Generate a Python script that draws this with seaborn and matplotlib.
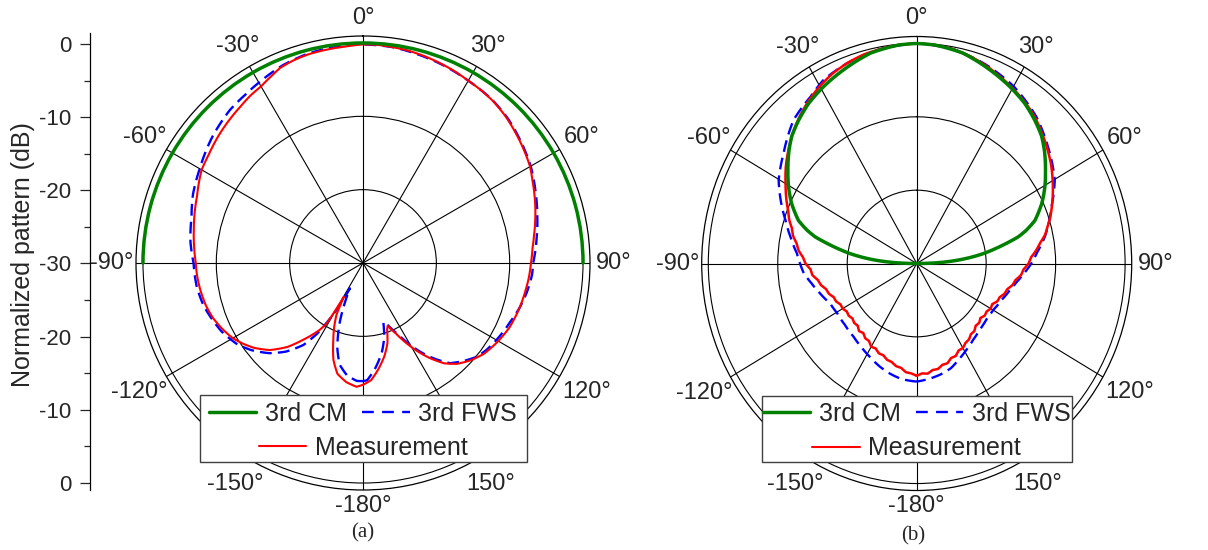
import numpy as np
import matplotlib
matplotlib.use("Agg")
import matplotlib.pyplot as plt
from matplotlib.lines import Line2D
from matplotlib.patches import Rectangle
import seaborn as sns

# ---- data (angles in degrees, clockwise from top; values in dB) ----
cm_a_theta = [-90, -60, -30, 0, 30, 60, 90]
cm_a_db = [0, 0, 0, 0, 0, 0, 0]

fws_a_theta = [-180, -177, -172, -167, -163, -158.5, -155.5, -152.8, -150, -147, -144, -139, -134,
               -128, -123, -116, -110, -105, -98, -90, -83, -75, -68, -60, -50, -41, -35, -30,
               -22, -15, -8, 0, 8, 15, 22, 30, 38, 45, 52, 60, 68, 75, 82, 90, 94, 100, 106,
               112, 120, 125, 129.5, 134, 139, 143, 147, 150, 154, 158, 161, 164, 168, 173.5,
               178, 180]
fws_a_db = [-13.9, -13.9, -14.5, -15.8, -18.0, -21.4, -24.0, -26.1, -22.0, -18.5, -16.2, -14.0,
            -12.3, -10.7, -9.6, -8.6, -8.0, -7.5, -7.1, -6.9, -6.3, -5.8, -5.0, -4.3, -3.2,
            -2.35, -2.0, -1.6, -0.9, -0.5, -0.3, -0.2, -0.3, -0.6, -0.9, -1.3, -1.6, -2.1,
            -2.8, -3.6, -4.6, -5.4, -6.1, -6.8, -6.9, -7.3, -7.8, -8.4, -9.0, -9.4, -9.9,
            -10.8, -11.9, -13.6, -15.5, -17.1, -19.2, -20.8, -21.5, -19.5, -17.6, -15.5,
            -14.0, -13.9]

meas_a_theta = [-180, -177, -172, -167, -163, -159, -156, -153, -150.5, -149, -147, -142, -138,
                -133, -128, -124, -120, -115, -110, -105, -99, -94, -90, -85, -79, -74, -68,
                -64, -60, -55, -48, -43, -38, -34, -30, -26, -23, -19, -15, -10, -5, 0, 4, 8,
                12, 17, 21, 25, 30, 35, 39, 44, 48, 52, 56, 60, 64, 68, 72, 76, 81, 85, 90, 95,
                99, 106, 114, 121, 127, 132, 137, 141, 145, 148, 152, 155, 157, 158.5, 160,
                163, 167, 172, 176, 180]
meas_a_db = [-13.4, -13.1, -13.6, -14.5, -16.2, -18.7, -20.3, -22.0, -24.7, -20.4, -19.1, -16.7,
             -14.6, -12.6, -11.2, -10.3, -9.5, -8.8, -8.2, -7.8, -7.5, -7.3, -7.2, -6.9, -6.5,
             -6.1, -5.6, -5.1, -4.6, -4.3, -3.7, -3.3, -2.9, -2.5, -2.2, -1.6, -1.1, -0.8,
             -0.6, -0.5, -0.4, -0.2, -0.2, -0.3, -0.4, -0.6, -0.8, -1.0, -1.3, -1.5, -1.7,
             -2.1, -2.5, -2.9, -3.3, -3.7, -4.3, -4.8, -5.3, -5.8, -6.4, -6.8, -7.1, -7.3,
             -7.5, -7.8, -8.2, -8.8, -9.4, -10.2, -11.2, -12.4, -14.2, -15.7, -17.8, -19.4,
             -20.2, -20.8, -20.4, -18.6, -17.0, -15.3, -14.0, -13.4]

cm_b_theta = [-90, -88, -86, -84, -82, -80, -78, -76, -74, -71, -65.5, -60.5, -55.5, -50, -46,
              -41, -35.5, -29, -22, -13, -5, 0, 5, 13, 22, 29, 35.5, 41, 46, 50, 55.5, 60.5,
              65.5, 71, 74, 76, 78, 80, 82, 84, 86, 88, 90]
cm_b_db = [-30, -27.0, -24.5, -22.3, -20.3, -18.6, -16.8, -14.9, -13.6, -12.0, -10.2, -8.8,
           -7.5, -6.0, -5.0, -4.1, -3.2, -2.4, -1.6, -0.55, -0.1, 0, -0.1, -0.55, -1.6, -2.4,
           -3.2, -4.1, -5.0, -6.0, -7.5, -8.8, -10.2, -12.0, -13.6, -14.9, -16.8, -18.6,
           -20.3, -22.3, -24.5, -27.0, -30]

fws_b_theta = [-180, -172, -165.6, -159, -152, -145, -137.7, -129, -120.6, -113.6, -106.3, -100,
               -94.7, -90, -85.4, -78.6, -72.6, -68.2, -60.2, -51.9, -42.2, -33.9, -28.2, -20,
               -10, 0, 10, 20, 30, 40.7, 49.9, 60.2, 68.2, 78.8, 85, 90, 95, 100, 105, 112,
               120, 127, 135, 142, 149, 155, 161, 167, 173, 180]
fws_b_db = [-13.9, -14.1, -14.5, -15.0, -15.6, -16.1, -16.5, -16.7, -16.7, -16.4, -15.5, -14.6,
            -13.7, -13.2, -12.7, -11.45, -10.2, -9.1, -7.1, -5.65, -3.6, -2.6, -1.6, -0.9,
            -0.3, 0, -0.3, -1.1, -2.1, -3.6, -5.3, -7.1, -9.1, -11.2, -12.6, -13.5, -14.5,
            -15.4, -16.1, -16.8, -17.3, -17.4, -17.2, -16.8, -16.2, -15.6, -14.9, -14.5,
            -14.2, -13.9]

meas_b_theta = [-180, -177, -174, -171, -168, -165, -162, -159, -156, -153, -150, -147, -144,
                -141, -138, -135, -132, -129, -126, -123, -120, -117, -114, -111, -108, -105,
                -102, -99, -96, -93, -90, -87, -84, -81, -78, -75, -72, -69, -65, -60, -55,
                -50, -45, -40, -35, -30, -25, -20, -15, -10, -5, 0, 5, 10, 15, 20, 25, 30, 35,
                40, 45, 50, 55, 60, 65, 69, 72, 75, 78, 81, 84, 87, 90, 93, 96, 99, 102, 105,
                108, 111, 114, 117, 120, 123, 126, 129, 132, 135, 138, 141, 144, 147, 150, 153,
                156, 159, 162, 165, 168, 171, 174, 177, 180]
meas_b_db = [-14.7, -15.0, -15.1, -15.6, -15.7, -16.1, -16.2, -16.6, -16.6, -17.0, -16.9, -17.4,
             -17.4, -17.8, -17.6, -18.0, -17.9, -18.1, -17.9, -18.0, -17.7, -17.7, -17.3, -17.2,
             -16.7, -16.5, -15.9, -15.6, -14.9, -14.7, -14.0, -13.6, -12.9, -12.5, -11.8,
             -11.4, -10.7, -10.2, -9.3, -8.2, -7.0, -5.9, -4.8, -3.8, -2.9, -2.1, -1.4, -0.9,
             -0.5, -0.3, -0.1, 0.0, -0.1, -0.3, -0.7, -1.2, -1.8, -2.4, -3.0, -3.7, -4.6, -5.5,
             -6.4, -7.4, -8.4, -9.2, -9.8, -10.5, -11.1, -12.0, -12.7, -13.5, -13.9, -14.6,
             -14.9, -15.6, -15.9, -16.5, -16.7, -17.2, -17.3, -17.8, -17.7, -18.0, -17.9,
             -18.2, -17.9, -18.0, -17.6, -17.6, -17.2, -17.1, -16.7, -16.7, -16.2, -16.2,
             -15.7, -15.7, -15.3, -15.3, -14.9, -15.0, -14.7]

angle_ticks = [0, 30, 60, 90, 120, 150, 180, 210, 240, 270, 300, 330]
angle_labels = ["0°", "30°", "60°", "90°", "120°", "150°", "-180°",
                "-150°", "-120°", "-90°", "-60°", "-30°"]
db_tick_labels = ["0", "-10", "-20", "-30", "-20", "-10", "0"]
legend_labels = ["3rd CM", "3rd FWS", "Measurement"]
panel_labels = ["(a)", "(b)"]

GREEN = "#008000"
BLUE = "#0000ff"
RED = "#ff0000"

sns.set_theme(style="white", rc={"axes.edgecolor": "black", "xtick.bottom": True,
                                 "ytick.left": True})
plt.rcParams["font.family"] = ["Liberation Sans", "DejaVu Sans"]

fig = plt.figure(figsize=(12.08, 5.5), dpi=100)
W, H = 1208.0, 550.0

# distance (px) of each angle label centre from the plot centre
label_dist = {0: 245, 30: 250, 60: 252, 90: 251, 120: 258, 150: 255, 180: 243,
              210: 255, 240: 258, 270: 251, 300: 252, 330: 250}


def polar_panel(rect, w_px, h_px, cm, fws, meas, stretch=False, meas_lw=1.5):
    ax = fig.add_axes(rect, projection="polar")
    ax.set_theta_zero_location("N")
    ax.set_theta_direction(-1)
    if stretch:
        ax.set_aspect("auto")

    sns.lineplot(x=np.deg2rad(fws[0]), y=fws[1], ax=ax, sort=False, estimator=None,
                 color=BLUE, lw=1.7, zorder=3)
    ax.lines[-1].set_dashes((5, 2.6))
    sns.lineplot(x=np.deg2rad(meas[0]), y=meas[1], ax=ax, sort=False, estimator=None,
                 color=RED, lw=meas_lw, zorder=4)
    sns.lineplot(x=np.deg2rad(cm[0]), y=cm[1], ax=ax, sort=False, estimator=None,
                 color=GREEN, lw=2.5, zorder=4.5)
    # draw segments as polar curves rather than straight chords
    for ln in ax.lines:
        ln.get_path()._interpolation_steps = 30

    ax.set_rlim(-30, 0.95)
    ax.set_rgrids([-20, -10, 0], labels=["", "", ""])
    ax.set_thetagrids(angle_ticks, [""] * len(angle_ticks))
    ax.set_xticks(np.deg2rad(np.arange(15, 360, 30)), minor=True)
    ax.tick_params(axis="x", which="both", direction="in", length=7, width=0.8,
                   colors="black")
    ax.grid(True, color="black", lw=0.8)
    ax.spines["polar"].set_linewidth(0.9)
    ax.set_xlabel("")
    ax.set_ylabel("")

    sx = (w_px / 2 - 227 + 250) / 250 if stretch else 1.0
    for ang, lab in zip(angle_ticks, angle_labels):
        d = label_dist[ang]
        t = np.deg2rad(ang)
        ax.text(0.5 + d * sx * np.sin(t) / w_px, 0.5 + d * np.cos(t) / h_px, lab,
                transform=ax.transAxes, fontsize=17, ha="center", va="center")

    # legend: framed box, first row two entries, second row centred
    ax.add_patch(Rectangle((0.141, 0.062), 0.72, 0.147, transform=ax.transAxes,
                           facecolor="white", edgecolor="#404040", lw=1.0, zorder=5,
                           clip_on=False))
    h_cm = Line2D([], [], color=GREEN, lw=2.5)
    h_fws = Line2D([], [], color=BLUE, lw=1.7, dashes=(5, 3.5))
    h_meas = Line2D([], [], color=RED, lw=1.5)
    kw = dict(loc="center", frameon=False, fontsize=18, handlelength=1.9,
              handletextpad=0.35, columnspacing=0.6, borderpad=0, borderaxespad=0)
    leg1 = ax.legend([h_cm, h_fws], legend_labels[:2], ncol=2,
                     bbox_to_anchor=(0.5, 0.168), **kw)
    leg1.set_zorder(6)
    ax.add_artist(leg1)
    leg2 = ax.legend([h_meas], legend_labels[2:], bbox_to_anchor=(0.5, 0.093), **kw)
    leg2.set_zorder(6)
    return ax


ax_a = polar_panel([136 / W, 60 / H, 454 / W, 454 / H], 454, 454,
                   (cm_a_theta, cm_a_db), (fws_a_theta, fws_a_db), (meas_a_theta, meas_a_db))
ax_b = polar_panel([701.7 / W, 59.5 / H, 430 / W, 454 / H], 430, 454,
                   (cm_b_theta, cm_b_db), (fws_b_theta, fws_b_db), (meas_b_theta, meas_b_db),
                   stretch=True, meas_lw=1.8)

# left dB scale (linear, mirrored about the centre)
ax_y = fig.add_axes([89.5 / W, 60 / H, 0.0001, 457 / H])
ax_y.set_ylim(60.96, -1.5)
ax_y.set_yticks(np.arange(0, 61, 10))
ax_y.set_yticklabels(db_tick_labels, fontsize=16)
ax_y.set_yticks(np.arange(5, 60, 10), minor=True)
ax_y.tick_params(axis="y", which="major", direction="out", length=7, width=0.9, pad=6)
ax_y.tick_params(axis="y", which="minor", direction="out", length=4, width=0.9, left=True)
ax_y.set_xticks([])
for side in ["top", "right", "bottom"]:
    ax_y.spines[side].set_visible(False)
ax_y.spines["left"].set_linewidth(0.9)
ax_y.patch.set_alpha(0)

fig.text(23 / W, 1 - 255 / H, "Normalized pattern (dB)", rotation=90, fontsize=18,
         ha="center", va="center")
fig.text(363 / W, 1 - 533 / H, panel_labels[0], fontsize=15, family="Liberation Serif",
         ha="center", va="center")
fig.text(913 / W, 1 - 536 / H, panel_labels[1], fontsize=15, family="Liberation Serif",
         ha="center", va="center")

fig.savefig("out.png", dpi=100, facecolor="white")
